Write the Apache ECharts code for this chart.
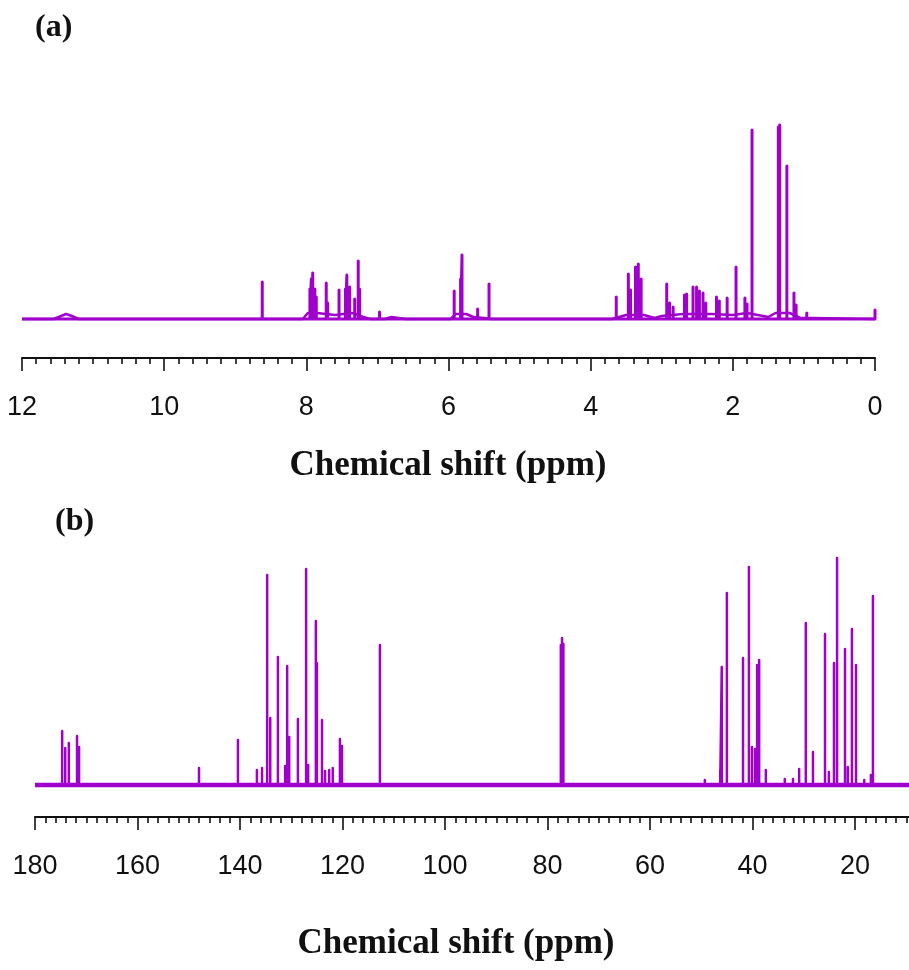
<!DOCTYPE html>
<html>
<head>
<meta charset="utf-8">
<script src="https://cdn.jsdelivr.net/npm/echarts@6/dist/echarts.min.js"></script>
<style>
  html, body { margin: 0; padding: 0; background: #ffffff; }
  #chart { width: 909px; height: 970px; }
</style>
</head>
<body>
<div id="chart"></div>
<script>
// (a) 1H NMR: resolved lines (ppm, relative intensity)
const hShift = [8.62, 7.95, 7.93, 7.91, 7.88, 7.86, 7.72, 7.70, 7.54, 7.45, 7.43, 7.39, 7.32, 7.27, 7.25,
  6.97, 5.92, 5.83, 5.81, 5.59, 5.43, 3.64, 3.47, 3.44, 3.37, 3.33, 3.29, 2.93, 2.89, 2.84,
  2.68, 2.65, 2.56, 2.51, 2.47, 2.42, 2.38, 2.23, 2.19, 2.08, 1.955, 1.83, 1.80, 1.73,
  1.36, 1.34, 1.24, 1.14, 1.11, 0.96, 0.00];
const hInt = [37, 30, 40, 46, 30, 22, 36, 16, 29, 30, 44, 32, 20, 58, 30,
  7, 28, 40, 64, 10, 35, 22, 45, 29, 52, 55, 40, 35, 16, 12,
  24, 25, 32, 32, 28, 26, 16, 22, 18, 21, 52, 21, 15, 189,
  192, 194, 153, 26, 14, 6, 9];
// (a) broad features and raised baseline under the multiplets
const hBaseShift = [12.0, 11.55, 11.45, 11.38, 11.3, 11.2, 8.05, 7.98, 7.85, 7.6, 7.35, 7.2, 7.1, 6.9, 6.8, 6.7, 6.6,
  5.97, 5.9, 5.75, 5.65, 5.5, 5.4, 3.7, 3.5, 3.25, 3.1, 3.0, 2.7, 2.3, 2.0, 1.8, 1.5, 1.4, 1.2, 1.05, 0.9, 0.0];
const hBaseInt = [0, 0, 3, 5, 3, 0, 0, 6, 6, 4, 6, 2, 0, 0, 2, 1, 0,
  0, 5, 5, 2, 1, 0, 0, 4, 4, 1, 3, 5, 5, 4, 6, 2, 6, 6, 1, 1, 0];

// (b) 13C NMR: lines (ppm, relative intensity)
const cShift = [174.7, 174.1, 173.4, 171.8, 171.4, 148.0, 140.4, 136.7, 135.7, 134.7, 134.1, 132.6, 131.2, 130.8,
  130.4, 128.7, 127.1, 126.7, 125.2, 125.0, 124.0, 123.4, 122.6, 121.9, 120.5, 120.1, 112.7,
  77.4, 77.16, 76.9, 49.3, 46.3, 46.0, 45.0, 41.85, 40.7, 40.1, 39.5, 39.1, 38.7, 37.4, 33.7, 32.1,
  30.9, 29.6, 28.2, 25.85, 25.1, 24.1, 23.5, 21.95, 21.4, 20.6, 19.8, 18.2, 16.9, 16.5];
const cInt = [54, 37, 42, 49, 38, 17, 45, 15, 17, 210, 67, 128, 19, 119,
  48, 66, 216, 20, 164, 122, 65, 14, 15, 17, 46, 39, 140,
  140, 147, 141, 5, 15, 118, 192, 127, 218, 38, 36, 120, 125, 15, 6, 6,
  16, 162, 33, 151, 13, 122, 227, 136, 18, 156, 120, 5, 10, 189];

// spectral windows (ppm)
const hRange = [12, 0];
const cRange = [180, 9.4];

const purple = '#a000cc';
const axisFont = 'Liberation Sans, Arial, sans-serif';
const titleFont = 'Liberation Serif, Times New Roman, serif';

// turn a line list into a trace of vertical lines on a flat baseline
function stickTrace(shifts, ints, range) {
  const lines = shifts.map((s, i) => [s, ints[i]]).sort((a, b) => b[0] - a[0]);
  const pts = [[range[0], 0]];
  lines.forEach(([s, v]) => { pts.push([s, 0], [s, v], [s, 0]); });
  pts.push([range[1], 0]);
  return pts;
}

function ppmAxis(gridIndex, min, max, interval) {
  return {
    gridIndex, type: 'value', inverse: true, min, max, interval,
    axisLine: { show: true, onZero: false, lineStyle: { color: '#111', width: 2 } },
    axisTick: { show: true, length: 13, lineStyle: { color: '#111', width: 1.6 } },
    minorTick: { show: true, splitNumber: 10, length: 6, lineStyle: { color: '#111', width: 1.6 } },
    splitLine: { show: false },
    axisLabel: { color: '#111', fontSize: 27, fontFamily: axisFont, margin: 36 }
  };
}

function hiddenY(gridIndex, min, max) {
  return { gridIndex, type: 'value', min, max, show: false, splitLine: { show: false } };
}

function trace(idx, data, width) {
  return {
    type: 'line', xAxisIndex: idx, yAxisIndex: idx, data,
    showSymbol: false, symbol: 'none', silent: true,
    lineStyle: { color: purple, width: width, join: 'round' }
  };
}

const chart = echarts.init(document.getElementById('chart'), null, { renderer: 'canvas' });
chart.setOption({
  animation: false,
  backgroundColor: '#ffffff',
  grid: [
    { left: 22, width: 853, top: 120, height: 238, containLabel: false, outerBoundsMode: 'none' },
    { left: 35, width: 922.5, top: 550, height: 267, containLabel: false, outerBoundsMode: 'none' }
  ],
  xAxis: [ppmAxis(0, 0, 12, 2), ppmAxis(1, 0, 180, 20)],
  yAxis: [hiddenY(0, -39, 199), hiddenY(1, -32, 235)],
  series: [
    trace(0, hBaseShift.map((s, i) => [s, hBaseInt[i]]), 2.5),
    trace(0, stickTrace(hShift, hInt, hRange), 3),
    trace(1, [[cRange[0], 0], [cRange[1], 0]], 4.5),
    trace(1, stickTrace(cShift, cInt, cRange), 2.5)
  ],
  graphic: [
    { type: 'text', left: 35, top: 12, style: { text: '(a)', font: 'bold 32px ' + titleFont, fill: '#111' } },
    { type: 'text', left: 55, top: 506, style: { text: '(b)', font: 'bold 32px ' + titleFont, fill: '#111' } },
    { type: 'text', x: 448, y: 466, style: { text: 'Chemical shift (ppm)', font: 'bold 35px ' + titleFont, fill: '#111', align: 'center', verticalAlign: 'middle' } },
    { type: 'text', x: 456, y: 944, style: { text: 'Chemical shift (ppm)', font: 'bold 35px ' + titleFont, fill: '#111', align: 'center', verticalAlign: 'middle' } }
  ]
});
</script>
</body>
</html>
